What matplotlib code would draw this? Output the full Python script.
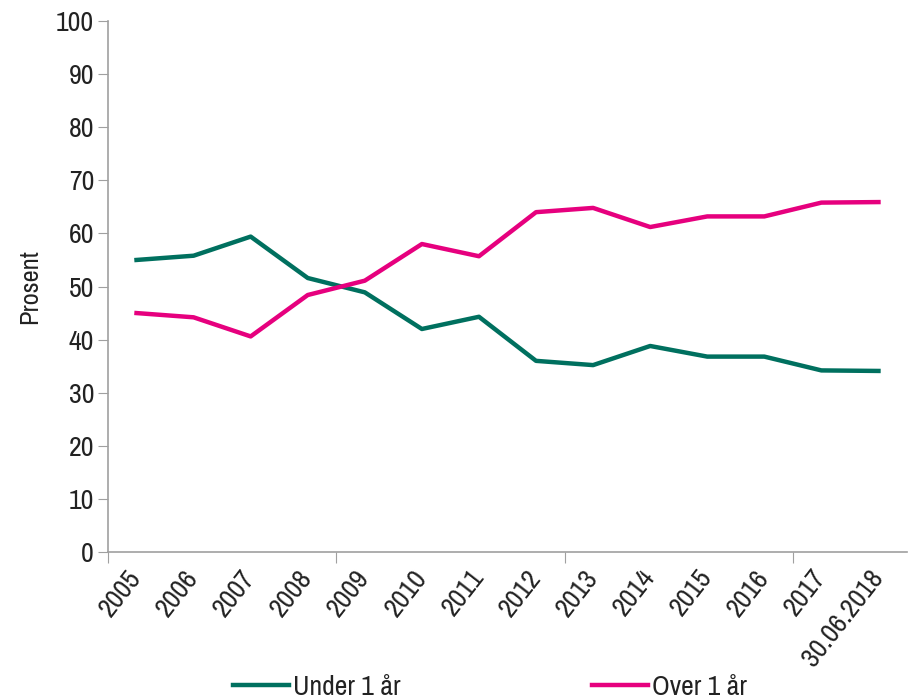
import matplotlib
matplotlib.use("Agg")
import matplotlib.pyplot as plt
import numpy as np

plt.rcParams['font.family'] = ['Archivo Narrow', 'DejaVu Sans']

# Andel i prosent etter varighet
years = ['2005', '2006', '2007', '2008', '2009', '2010', '2011', '2012',
         '2013', '2014', '2015', '2016', '2017', '30.06.2018']
under_1_aar = [55.0, 55.8, 59.4, 51.6, 48.9, 42.0, 44.3, 36.0, 35.2, 38.8,
               36.8, 36.8, 34.2, 34.1]
over_1_aar = [45.0, 44.2, 40.6, 48.4, 51.1, 58.0, 55.7, 64.0, 64.8, 61.2,
              63.2, 63.2, 65.8, 65.9]

teal = '#00705f'
magenta = '#e6007e'
grey = '#a0a0a0'
text_col = '#222222'
fs = 20

fig = plt.figure(figsize=(9.09, 7.0), dpi=100)
ax = fig.add_axes([0.1188, 0.2114, 0.879, 0.7586])

x = np.arange(len(years))
ax.plot(x, under_1_aar, color=teal, lw=3.2, label='Under 1 år')
ax.plot(x, over_1_aar, color=magenta, lw=3.2, label='Over 1 år')

ax.set_xlim(-0.5, len(years) - 0.5)
ax.set_ylim(0, 100)
ax.set_yticks(range(0, 101, 10))

# kategoriakse: merker på kategorigrenser, hver fjerde
ax.set_xticks(np.arange(-0.5, len(years), 4))
ax.set_xticklabels([])
ax.set_xticks(x, minor=True)
ax.set_xticklabels(years, minor=True, rotation=52, ha='right', va='center',
                   rotation_mode='anchor', fontsize=fs, color=text_col)
ax.tick_params(axis='x', which='major', length=8, color=grey, direction='out')
ax.tick_params(axis='x', which='minor', length=0, pad=15)
ax.tick_params(axis='y', length=7, color=grey, labelsize=fs, pad=3,
               labelcolor=text_col)

for side in ('top', 'right'):
    ax.spines[side].set_visible(False)
for side in ('left', 'bottom'):
    ax.spines[side].set_color(grey)
    ax.spines[side].set_linewidth(1.2)

ax.set_ylabel('Prosent', fontsize=19, labelpad=11, color=text_col)

leg = fig.legend(loc='center', bbox_to_anchor=(0.539, 0.018), ncol=2, frameon=False,
                 fontsize=fs, handlelength=2.0, handletextpad=0.15, columnspacing=6.9)
for t in leg.get_texts():
    t.set_color(text_col)

fig.savefig('out.png', dpi=100)
